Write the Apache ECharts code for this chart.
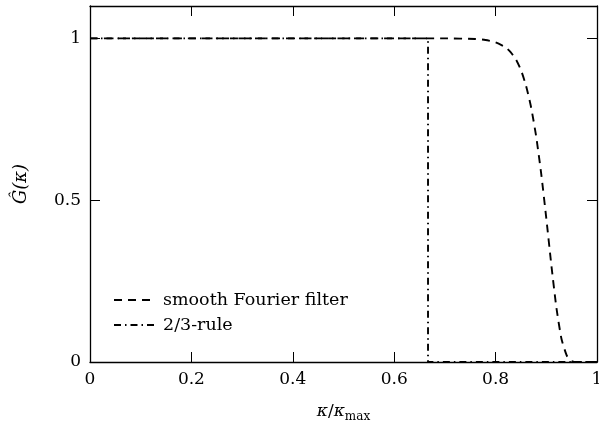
<!DOCTYPE html>
<html><head><meta charset="utf-8">
<script src="https://cdn.jsdelivr.net/npm/echarts@6/dist/echarts.min.js"></script>
<style>html,body{margin:0;padding:0;background:#fff}#c{width:599px;height:425px}</style>
</head><body><div id="c"></div>
<script>
// Data
const kSmooth = [0, 0.70, 0.76, 0.78, 0.80, 0.82, 0.83, 0.84, 0.85, 0.86, 0.87, 0.88, 0.89, 0.90, 0.91, 0.92, 0.93, 0.94, 0.945, 0.95, 0.96, 1.0];
const gSmooth = [1, 1.0, 0.998, 0.995, 0.988, 0.972, 0.957, 0.935, 0.902, 0.854, 0.787, 0.697, 0.581, 0.444, 0.299, 0.167, 0.071, 0.021, 0.009, 0.003, 0, 0];
const kRule = [0, 0.6667, 0.6667, 1.0];
const gRule = [1, 1, 0, 0];
const xTicks = [0, 0.2, 0.4, 0.6, 0.8, 1];
const yTicks = [0, 0.5, 1];
const seriesNames = ['smooth Fourier filter', '2/3-rule'];

const FONT = 'DejaVu Serif';
const zip = (a, b) => a.map((v, i) => [v, b[i]]);
const fmtX = v => xTicks.some(t => Math.abs(t - v) < 1e-9) ? String(+v.toFixed(1)) : '';
const fmtY = v => yTicks.some(t => Math.abs(t - v) < 1e-9) ? String(+v.toFixed(1)) : '';

const axisLine = {show: true, onZero: false, lineStyle: {color: '#000', width: 1.3}};
const tick = {show: true, inside: true, length: 10, lineStyle: {color: '#000', width: 1}};

const chart = echarts.init(document.getElementById('c'), null, {renderer: 'canvas'});
chart.setOption({
  animation: false,
  backgroundColor: '#fff',
  grid: {left: 90, right: 2, top: 6, bottom: 63, containLabel: false, outerBoundsMode: 'none'},
  legend: {
    orient: 'vertical', left: 108, top: 286, itemWidth: 40, itemHeight: 14, itemGap: 7,
    itemStyle: {opacity: 0},
    textStyle: {fontFamily: FONT, fontSize: 17.5, color: '#000', padding: [0, 0, 0, 4]},
    data: seriesNames
  },
  xAxis: [{
    type: 'value', min: 0, max: 1, interval: 0.2, position: 'bottom',
    axisLine, axisTick: tick, splitLine: {show: false},
    axisLabel: {formatter: fmtX, fontFamily: FONT, fontSize: 17, color: '#000', margin: 9},
    name: '{i|κ}/{i|κ}{s|max}', nameLocation: 'middle', nameGap: 39,
    nameTextStyle: {fontFamily: FONT, fontSize: 17, color: '#000',
      rich: {i: {fontFamily: FONT, fontStyle: 'italic', fontSize: 17, color: '#000'},
             s: {fontFamily: FONT, fontSize: 12, color: '#000', padding: [10, 0, 0, 0]}}}
  }, {
    type: 'value', min: 0, max: 1, interval: 0.2, position: 'top',
    axisLine, axisTick: tick, axisLabel: {show: false}, splitLine: {show: false}
  }],
  yAxis: [{
    type: 'value', min: 0, max: 1.1, interval: 0.5, position: 'left',
    axisLine, axisTick: tick, splitLine: {show: false},
    axisLabel: {formatter: fmtY, fontFamily: FONT, fontSize: 17, color: '#000', margin: 9,
      showMaxLabel: false},
    name: 'Ĝ(κ)', nameLocation: 'middle', nameGap: 60, nameRotate: 90,
    nameTextStyle: {fontFamily: FONT, fontStyle: 'italic', fontSize: 18, color: '#000'}
  }, {
    type: 'value', min: 0, max: 1.1, interval: 0.5, position: 'right',
    axisLine, axisTick: tick, axisLabel: {show: false}, splitLine: {show: false}
  }],
  series: [{
    name: seriesNames[0], type: 'line', data: zip(kSmooth, gSmooth),
    showSymbol: false, symbol: 'none', smooth: 0.2,
    lineStyle: {color: '#000', width: 1.9, type: [8, 6]},
    itemStyle: {color: '#000'}
  }, {
    name: seriesNames[1], type: 'line', data: zip(kRule, gRule),
    showSymbol: false, symbol: 'none',
    lineStyle: {color: '#000', width: 1.9, type: [7, 4, 1.5, 4]},
    itemStyle: {color: '#000'}
  }]
});
</script></body></html>
